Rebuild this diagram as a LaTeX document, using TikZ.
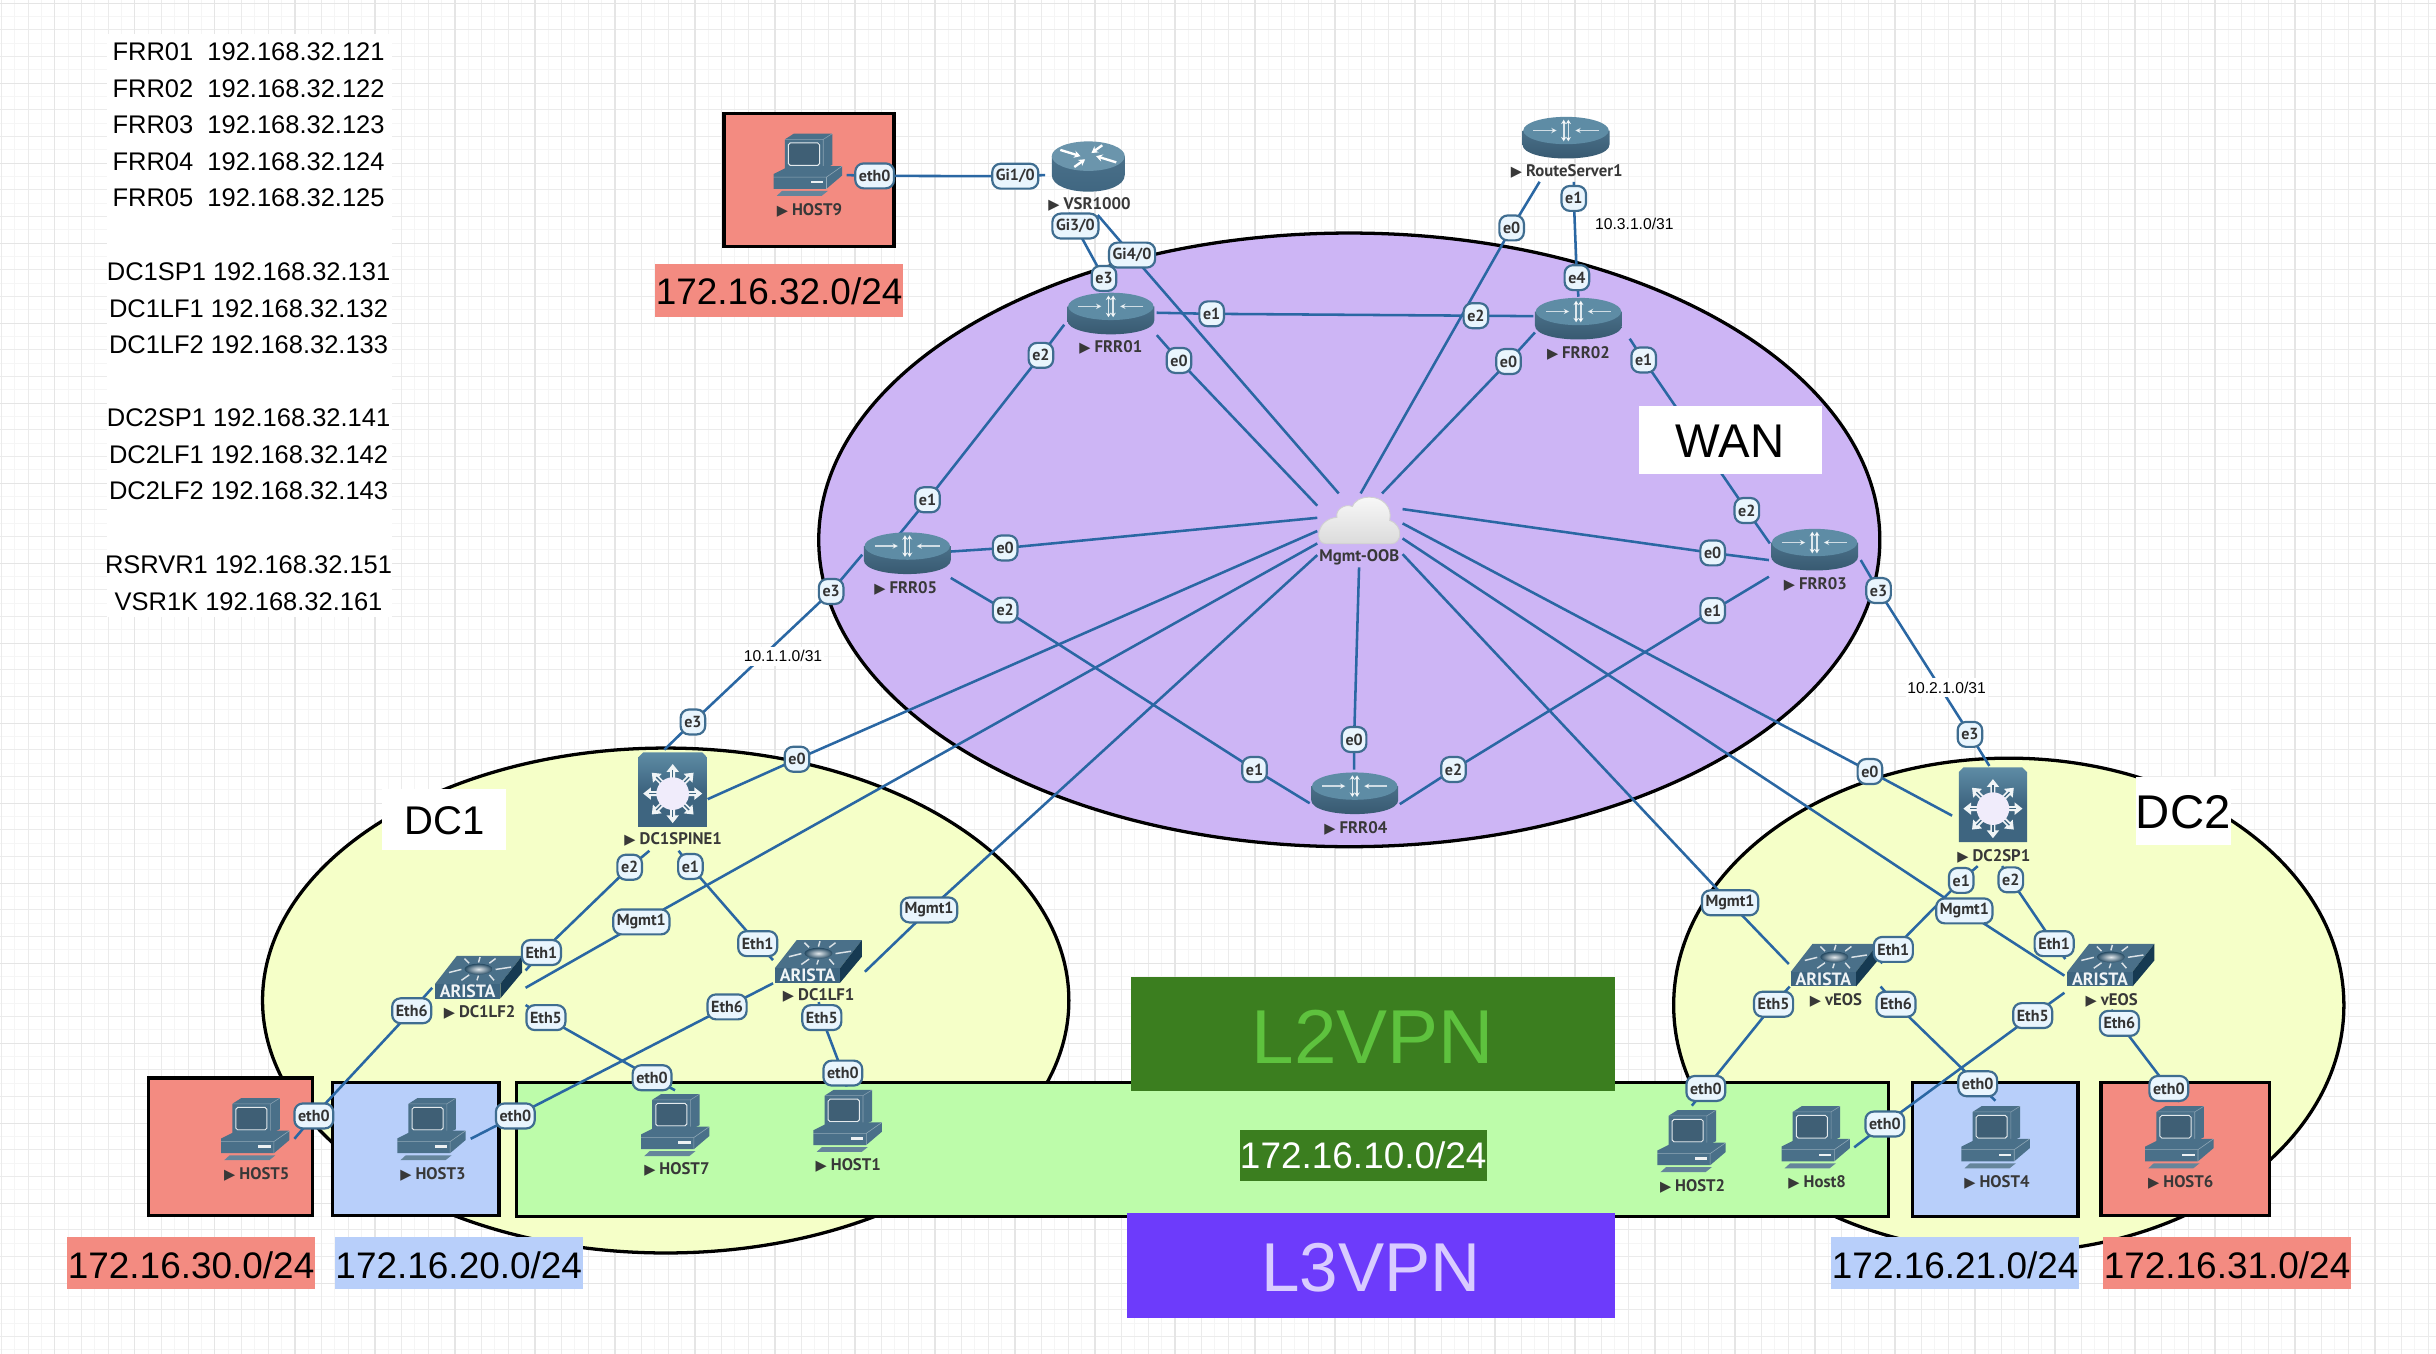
\documentclass[tikz,border=0pt]{standalone}
\usepackage{fontspec}
\setmainfont{Liberation Sans}
\newfontfamily\lab{PT Sans}
\newfontfamily\dv{DejaVu Sans}
\usetikzlibrary{arrows.meta,shadings}
\pgfdeclarelayer{bgl}\pgfdeclarelayer{links}
\pgfsetlayers{bgl,links,main}
\definecolor{iconA}{HTML}{4A7089}
\definecolor{iconB}{HTML}{3E6580}
\definecolor{iconC}{HTML}{5E8CA5}
\definecolor{iconD}{HTML}{163A52}
\definecolor{linkc}{HTML}{2A67A3}
\definecolor{portb}{HTML}{3F6D90}
\definecolor{portf}{HTML}{E9F5FD}
\definecolor{redb}{HTML}{F38B81}
\definecolor{blueb}{HTML}{B8CFFA}
\definecolor{greenb}{HTML}{BDFCAA}
\definecolor{yell}{HTML}{F5FFC8}
\definecolor{purp}{HTML}{CDB5F5}
\definecolor{dgreen}{HTML}{3B7E1F}
\definecolor{lgreen}{HTML}{5EC23E}
\definecolor{violet2}{HTML}{6D3BFB}
\definecolor{lav}{HTML}{D9CCFF}
\newcommand\devlab[1]{{\dv\fontsize{8}{8}\selectfont ▶}\hspace{2.2pt}#1}
\newcommand\drop[2]{\raisebox{-#1}[\height][0pt]{#2}}
\tikzset{
  x=0.03cm,y=-0.03cm,
  link/.style={draw=linkc,line width=1.4pt},
  port/.style={draw=portb,fill=portf,line width=1.2pt,rounded corners=4.6pt,yshift=-0.6pt,
    minimum height=13.7pt,minimum width=13.5pt,inner xsep=2pt,inner ysep=0pt,
    text=black!80,font=\lab\bfseries\fontsize{8.8}{8.8}\selectfont},
  devnode/.style={inner sep=0pt,minimum size=1pt},
  devlabel/.style={inner sep=0pt,yshift=-1.2pt,text=black!78,font=\lab\bfseries\fontsize{9.2}{9.2}\selectfont},
  area/.style={draw=black,line width=1.8pt},
  subnet/.style={inner sep=0pt,font=\fontsize{20.3}{20.3}\selectfont,text=black},
  smalltext/.style={fill=white,inner xsep=1pt,inner ysep=2pt,font=\fontsize{8.6}{8.6}\selectfont},
  tblrow/.style={inner sep=0pt,font=\fontsize{14}{14}\selectfont},
  router/.pic={
    \shade[top color=iconA,bottom color=iconB!85!black] (-28,-4.5) -- (-28,4.5) .. controls (-28,16.5) and (28,16.5) .. (28,4.5) -- (28,-4.5) -- cycle;
    \fill[iconC] (0,-4.5) ellipse [x radius=27.5,y radius=8.8];
    \draw[white,opacity=.7,line width=.8pt,-{Stealth[length=3pt,width=3pt]}] (-21,-4.5) -- (-6,-4.5);
    \draw[white,opacity=.7,line width=.8pt,-{Stealth[length=3pt,width=3pt]}] (21,-4.5) -- (6,-4.5);
    \draw[white,opacity=.8,line width=.9pt,{Stealth[length=2.5pt,width=3pt]}-{Stealth[length=2.5pt,width=3pt]}] (-1.5,-11.5) -- (-1.5,2.5);
    \draw[white,opacity=.8,line width=.9pt,{Stealth[length=2.5pt,width=3pt]}-{Stealth[length=2.5pt,width=3pt]}] (1.5,-11.5) -- (1.5,2.5);
  },
  vrouter/.pic={
    \shade[top color=iconA,bottom color=iconB] (-23.5,-6) -- (-23.5,6) .. controls (-23.5,20.5) and (23.5,20.5) .. (23.5,6) -- (23.5,-6) -- cycle;
    \fill[iconC!92!white] (0,-6) ellipse [x radius=23.5,y radius=9.5];
    \foreach \a/\b/\c/\d in {-18/-10/-5/-6, 18/-2/5/-6, 9/-13/2/-8, -9/1/-2/-4}
      \draw[white,line width=1.3pt,-{Stealth[length=3.5pt,width=4pt]}] (\a,\b) -- (\c,\d);
  },
  pchost/.pic={
    \fill[iconA] (-14.8,-16.3) -- (-9,-20) -- (15.8,-20) -- (15.8,0) -- (9.9,2.9) -- (-14.8,2.9) -- cycle;
    \draw[white,opacity=.35,line width=.3pt] (9.9,-16.3) -- (15.8,-20) (-14.8,-16.3) -- (9.9,-16.3) -- (9.9,2.9);
    \fill[iconA!85!black] (-12.5,-14) rectangle (7.5,0.5);
    \draw[white!85!iconA,line width=.55pt,rounded corners=1pt] (-12.5,-14) rectangle (7.5,0.5);
    \fill[iconA] (-22,6) -- (-12,1) -- (22,1) -- (22,7) -- (12,15.5) -- (-22,15.5) -- cycle;
    \draw[white,opacity=.4,line width=.3pt] (-22,8) -- (12,8) -- (22,1) (12,8) -- (12,15.5);
    \fill[white!90!iconA] (2,10.5) rectangle (10,12);
    \fill[iconA!85] (-20,20) -- (-16.5,16.8) -- (13,16.8) -- (9,20) -- cycle;
  },
  arista/.pic={
    \fill[iconA] (-28,4.3) -- (-14,-13.7) -- (28,-13.7) -- (14,4.3) -- cycle;
    \fill[iconD] (14,4.3) -- (28,-13.7) -- (28,-3) -- (14,13.7) -- cycle;
    \fill[iconB] (-28,4.3) rectangle (14,13.7);
    \foreach \dx/\dy/\ex/\ey in {-11/-5/-19/-3,11/-5/21/-6.5,-6/-9/-9/-12,7/-9/11/-12,-6/-1.5/-11/2,7/-1.5/10/2,0/-9.5/1/-13,0/-1/-1/2}
      \draw[white!80!iconA,line width=.8pt] (\dx,\dy) -- (\ex,\ey);
    \shade[inner color=white!85!iconA,outer color=iconD!70!iconA] (0,-5.2) ellipse [x radius=9,y radius=3.5];
    \node[inner sep=0pt,text=white!92!iconA,font=\lab\bfseries\fontsize{9.8}{9.8}\selectfont] at (-7,9.2) {ARISTA};
  },
  spine/.pic={
    \shade[top color=iconC,bottom color=iconB,middle color=iconB] (-22,24) -- (-22,-21) -- (-19,-24) -- (19,-24) -- (22,-21) -- (22,24) -- cycle;
    \foreach \r in {0,45,...,315}{
      \begin{scope}[shift={(0,2.5)},rotate=\r]
        \fill[white!92!iconA] (9,-1.6) -- (14,-1.6) -- (14,-4) -- (19,0) -- (14,4) -- (14,1.6) -- (9,1.6) -- cycle;
        \fill[iconB] (10,-.4) rectangle (15,.4);
      \end{scope}}
    \fill[white!92!violet2!97!gray] (0,2.5) circle [radius=10.5];
  },
  cloudicon/.pic={
    \draw[draw=black!18,line width=.5pt,top color=white!97!black,bottom color=black!14]
      (-21,15) -- (21,15) .. controls (28,15) and (29,3) .. (20,0)
      .. controls (22,-9) and (15,-15) .. (7,-15)
      .. controls (1,-15) and (-3,-12) .. (-4,-9)
      .. controls (-9,-11) and (-15,-7) .. (-14,-2)
      .. controls (-27,-1) and (-29,15) .. (-21,15) -- cycle;
  },
}
\begin{document}
\begin{tikzpicture}
\useasboundingbox (0,0) rectangle (1568,871.5);
\begin{pgfonlayer}{bgl}
  \fill[white] (0,0) rectangle (1568,871.5);
  % page grid
  \foreach \g in {0,...,91}{
    \pgfmathsetmacro\gx{9.58+17.165*\g}\pgfmathsetmacro\gy{10.68+17.165*\g}
    \draw[black!4,line width=.55pt] (\gx,0) -- (\gx,871.5);
    \ifnum\g<51 \draw[black!4,line width=.55pt] (0,\gy) -- (1568,\gy);\fi}
  \foreach \g in {0,...,91}{
    \pgfmathsetmacro\gx{1+17.165*\g}\pgfmathsetmacro\gy{2.1+17.165*\g}
    \draw[black!8,line width=.55pt] (\gx,0) -- (\gx,871.5);
    \ifnum\g<51 \draw[black!8,line width=.55pt] (0,\gy) -- (1568,\gy);\fi}
  \foreach \g in {0,...,30}{
    \pgfmathsetmacro\gx{35.3+51.5*\g}\pgfmathsetmacro\gy{2.1+51.5*\g}
    \draw[black!10,line width=.7pt] (\gx,0) -- (\gx,871.5);
    \ifnum\g<17 \draw[black!10,line width=.7pt] (0,\gy) -- (1568,\gy);\fi}
  \fill[white] (69,22) rectangle (252,397);
  % clouds of the topology
  \path[area,fill=yell] (428.5,644) ellipse [x radius=259.5,y radius=162.5];
  \path[area,fill=yell] (1293,647) ellipse [x radius=215.7,y radius=159];
  \path[area,fill=purp] (868.5,347.5) ellipse [x radius=341.5,y radius=197.5];
  % subnet boxes
  \path[area,fill=redb] (466,73) rectangle (575.5,158.5);
  \path[area,fill=redb] (95.5,693.8) rectangle (201.3,782.2);
  \path[area,fill=blueb] (214,696.8) rectangle (321.2,782.2);
  \path[area,fill=greenb] (332.4,696.8) rectangle (1215.5,783);
  \path[area,fill=blueb] (1231,696.8) rectangle (1337.6,783);
  \path[area,fill=redb] (1352.4,696.8) rectangle (1460.8,782.2);
\end{pgfonlayer}

% address table
\foreach \ry/\rt [count=\ri] in {33.5/FRR01\ \ 192.168.32.121,57/FRR02\ \ 192.168.32.122,80.5/FRR03\ \ 192.168.32.123,104/FRR04\ \ 192.168.32.124,127.5/FRR05\ \ 192.168.32.125,175/DC1SP1 192.168.32.131,198.5/DC1LF1 192.168.32.132,222/DC1LF2 192.168.32.133,269/DC2SP1 192.168.32.141,292.5/DC2LF1 192.168.32.142,316/DC2LF2 192.168.32.143,363.5/RSRVR1 192.168.32.151,387/VSR1K 192.168.32.161}
  \node[tblrow] (row\ri) at (160,\ry) {\rt};

% subnet labels
\node[subnet,fill=redb,minimum width=136.3pt,minimum height=29pt] (net32) at (501.5,187) {\drop{.5pt}{172.16.32.0/24}};
\node[subnet,fill=redb,minimum width=136.3pt,minimum height=29pt] (net30) at (123,813) {\drop{1pt}{172.16.30.0/24}};
\node[subnet,fill=blueb,minimum width=136.3pt,minimum height=29pt] (net20) at (295.3,813) {\drop{1pt}{172.16.20.0/24}};
\node[subnet,fill=blueb,minimum width=136.3pt,minimum height=29pt] (net21) at (1258.5,813) {\drop{1pt}{172.16.21.0/24}};
\node[subnet,fill=redb,minimum width=136.3pt,minimum height=29pt] (net31) at (1433.5,813) {\drop{1pt}{172.16.31.0/24}};
\node[inner sep=0pt,fill=dgreen,minimum width=266pt,minimum height=62.8pt,text=lgreen,font=\fontsize{42}{42}\selectfont] (l2vpn) at (883.7,665.7) {\drop{1.2pt}{L2VPN}};
\node[inner sep=0pt,fill=violet2,minimum width=268.5pt,minimum height=57.5pt,text=lav,font=\fontsize{38}{38}\selectfont] (l3vpn) at (882.5,814.5) {\drop{1.2pt}{L3VPN}};
\node[subnet,fill=dgreen,text=white,minimum width=136pt,minimum height=28pt] (net10) at (877.5,743.5) {172.16.10.0/24};
\node[inner sep=0pt,fill=white,minimum width=100.6pt,minimum height=37.5pt,font=\fontsize{26}{26}\selectfont] (wan) at (1113.7,283) {\drop{.8pt}{WAN}};
\node[inner sep=0pt,fill=white,minimum width=68pt,minimum height=34pt,font=\fontsize{22}{22}\selectfont] (dc1) at (286,527.5) {\drop{.8pt}{DC1}};
\node[inner sep=0pt,fill=white,minimum width=52.4pt,minimum height=37.8pt,font=\fontsize{26}{26}\selectfont] (dc2) at (1405.3,522) {\drop{.5pt}{DC2}};

% devices
\foreach \nm/\px/\py/\kind in {frr01/715/201.7/router,frr02/1016/205/router,frr03/1168/353.7/router,frr04/872/510.5/router,frr05/584/356/router,rs/1008/88.5/router,vsr/700.5/106.5/vrouter,oob/874.5/335/cloudicon,dc1sp/433/508.3/spine,dc2sp/1282.8/518/spine,dc1lf2/308/629/arista,dc1lf1/526.8/618.8/arista,veosa/1180.7/621.2/arista,veosb/1358.7/621.2/arista,host9/520/106/pchost,host5/164.3/726.8/pchost,host3/277.7/726.8/pchost,host7/434.6/724.2/pchost,host1/545.6/721.5/pchost,host2/1088.8/734.5/pchost,host8/1168.7/732/pchost,host4/1284.5/732/pchost,host6/1402.8/732/pchost}{
  \node[devnode] (\nm) at (\px,\py) {};
  \pic at (\nm) {\kind};
}

% device labels
\node[devlabel] (frr01l) at (715,222.5) {\devlab{FRR01}};
\node[devlabel] (frr02l) at (1016,226) {\devlab{FRR02}};
\node[devlabel] (frr03l) at (1168.5,374.5) {\devlab{FRR03}};
\node[devlabel] (frr04l) at (872.7,531.5) {\devlab{FRR04}};
\node[devlabel] (frr05l) at (583,377.5) {\devlab{FRR05}};
\node[devlabel] (rsl) at (1008.5,109) {\devlab{RouteServer1}};
\node[devlabel] (vsrl) at (701.3,130) {\devlab{VSR1000}};
\node[devlabel] (oobl) at (875,357.3) {Mgmt-OOB};
\node[devlabel] (dc1spl) at (433.3,539) {\devlab{DC1SPINE1}};
\node[devlabel] (dc2spl) at (1283.4,549.6) {\devlab{DC2SP1}};
\node[devlabel] (lf2l) at (308.7,650) {\devlab{DC1LF2}};
\node[devlabel] (lf1l) at (527,639.5) {\devlab{DC1LF1}};
\node[devlabel] (veosal) at (1181.7,642.5) {\devlab{vEOS}};
\node[devlabel] (veosbl) at (1359.2,642.5) {\devlab{vEOS}};
\node[devlabel] (host9l) at (521,134) {\devlab{HOST9}};
\node[devlabel] (host5l) at (165.3,754.5) {\devlab{HOST5}};
\node[devlabel] (host3l) at (278.7,754.5) {\devlab{HOST3}};
\node[devlabel] (host7l) at (435.7,751.6) {\devlab{HOST7}};
\node[devlabel] (host1l) at (546,749) {\devlab{HOST1}};
\node[devlabel] (host2l) at (1089.5,762) {\devlab{HOST2}};
\node[devlabel] (host8l) at (1169.7,759.5) {\devlab{Host8}};
\node[devlabel] (host4l) at (1285.4,759.5) {\devlab{HOST4}};
\node[devlabel] (host6l) at (1403.7,759.5) {\devlab{HOST6}};

% free link text
\node[smalltext] (t101) at (504,422.5) {10.1.1.0/31};
\node[smalltext] (t102) at (1253,442.5) {10.2.1.0/31};
\node[smalltext,fill=none] (t103) at (1052,144) {10.3.1.0/31};

% ports
\node[port] (a1) at (563,112.5) {eth0};
\node[port] (a2) at (653.5,112.7) {Gi1/0};
\node[port] (b1) at (692.2,144.8) {Gi3/0};
\node[port] (b2) at (710.6,178.5) {e3};
\node[port] (c1) at (728.7,163.5) {Gi4/0};
\node[port] (d1) at (779.9,201.3) {e1};
\node[port] (d2) at (950,202.5) {e2};
\node[port] (e1) at (670,228) {e2};
\node[port] (e2) at (597,321) {e1};
\node[port] (f1) at (758.9,231.3) {e0};
\node[port] (g1) at (973,146) {e0};
\node[port] (h1) at (1013,127) {e1};
\node[port] (h2) at (1015,178) {e4};
\node[port] (i1) at (971,232) {e0};
\node[port] (j1) at (1058,231) {e1};
\node[port] (j2) at (1124.4,327.9) {e2};
\node[port] (k1) at (1102.4,355.2) {e0};
\node[port] (l1) at (1102.4,392.3) {e1};
\node[port] (l2) at (935.6,494.6) {e2};
\node[port] (m1) at (1209.2,379.4) {e3};
\node[port] (m2) at (1268,472) {e3};
\node[port] (n1) at (871.6,475.3) {e0};
\node[port] (o1) at (807.5,494.6) {e1};
\node[port] (o2) at (647,392) {e2};
\node[port] (p1) at (647,352) {e0};
\node[port] (q1) at (535,380) {e3};
\node[port] (q2) at (446,464) {e3};
\node[port] (r1) at (513,488) {e0};
\node[port] (s1) at (412.8,592.7) {Mgmt1};
\node[port] (t1) at (598,585) {Mgmt1};
\node[port] (u1) at (1203.6,495.9) {e0};
\node[port] (v1) at (1264.4,585.6) {Mgmt1};
\node[port] (w1) at (1113.6,580.4) {Mgmt1};
\node[port] (y1) at (405.3,557.5) {e2};
\node[port] (y2) at (348.5,612.4) {Eth1};
\node[port] (z1) at (444.4,557) {e1};
\node[port] (z2) at (487.7,606.7) {Eth1};
\node[port] (aa1) at (265,649.9) {Eth6};
\node[port] (aa2) at (202,717.6) {eth0};
\node[port] (ab1) at (351.4,654.3) {Eth5};
\node[port] (ab2) at (419.7,693) {eth0};
\node[port] (ac1) at (468,647.4) {Eth6};
\node[port] (ac2) at (331.7,717.6) {eth0};
\node[port] (ad1) at (529,654.3) {Eth5};
\node[port] (ad2) at (542.5,690) {eth0};
\node[port] (ae1) at (1262.4,566) {e1};
\node[port] (ae2) at (1218.7,610.4) {Eth1};
\node[port] (af1) at (1294.3,565.6) {e2};
\node[port] (af2) at (1322.2,606.7) {Eth1};
\node[port] (ag1) at (1141.6,645.7) {Eth5};
\node[port] (ag2) at (1098,699.9) {eth0};
\node[port] (ah1) at (1220.4,645.7) {Eth6};
\node[port] (ah2) at (1273,696.9) {eth0};
\node[port] (ai1) at (1308.4,653) {Eth5};
\node[port] (ai2) at (1213.2,722.8) {eth0};
\node[port] (aj1) at (1364.2,658) {Eth6};
\node[port] (aj2) at (1396,699.9) {eth0};

% connectors
\begin{pgfonlayer}{links}
\draw[link] ([shift={(25,6.7)}]host9.center) -- (a1.center) -- (a2.center) -- ([shift={(-27.8,6.2)}]vsr.center);
\draw[link] ([shift={(-12.5,30.5)}]vsr.center) -- (b1.center) -- (b2.center) -- ([shift={(-2,-15.7)}]frr01.center);
\draw[link] ([shift={(6.1,31.9)}]vsr.center) -- (c1.center) -- ([shift={(-12.8,-17.4)}]oob.center);
\draw[link] ([shift={(29.5,-0.4)}]frr01.center) -- (d1.center) -- (d2.center) -- ([shift={(-29,-1.5)}]frr02.center);
\draw[link] ([shift={(-30,7.3)}]frr01.center) -- (e1.center) -- (e2.center) -- ([shift={(-6,-11)}]frr05.center);
\draw[link] ([shift={(29.6,14)}]frr01.center) -- (f1.center) -- ([shift={(-26.6,-9.5)}]oob.center);
\draw[link] ([shift={(-17,28.5)}]rs.center) -- (g1.center) -- ([shift={(1.3,-17.4)}]oob.center);
\draw[link] ([shift={(5,28.5)}]rs.center) -- (h1.center) -- (h2.center) -- ([shift={(0,-14)}]frr02.center);
\draw[link] ([shift={(-28,9)}]frr02.center) -- (i1.center) -- ([shift={(15.1,-17.4)}]oob.center);
\draw[link] ([shift={(33,13)}]frr02.center) -- (j1.center) -- (j2.center) -- ([shift={(-28.8,-3.9)}]frr03.center);
\draw[link] ([shift={(-29.4,6.8)}]frr03.center) -- (k1.center) -- ([shift={(28.3,-7.3)}]oob.center);
\draw[link] ([shift={(-29.4,17.5)}]frr03.center) -- (l1.center) -- (l2.center) -- ([shift={(29,7.1)}]frr04.center);
\draw[link] ([shift={(29.7,6.8)}]frr03.center) -- (m1.center) -- (m2.center) -- ([shift={(-2.3,-25)}]dc2sp.center);
\draw[link] ([shift={(-0.4,-15.2)}]frr04.center) -- (n1.center) -- ([shift={(0.3,30.2)}]oob.center);
\draw[link] ([shift={(-29,6.5)}]frr04.center) -- (o1.center) -- (o2.center) -- ([shift={(28,16)}]frr05.center);
\draw[link] ([shift={(28,-1)}]frr05.center) -- (p1.center) -- ([shift={(-26.6,-1.7)}]oob.center);
\draw[link] ([shift={(-29,1)}]frr05.center) -- (q1.center) -- (q2.center) -- ([shift={(-5.4,-25.7)}]dc1sp.center);
\draw[link] ([shift={(22.5,6.1)}]dc1sp.center) -- (r1.center) -- ([shift={(-26.6,6.8)}]oob.center);
\draw[link] ([shift={(30.3,6.8)}]dc1lf2.center) -- (s1.center) -- ([shift={(-26.6,14.8)}]oob.center);
\draw[link] ([shift={(29.9,6.7)}]dc1lf1.center) -- (t1.center) -- ([shift={(-26.6,22.3)}]oob.center);
\draw[link] ([shift={(-26.3,7)}]dc2sp.center) -- (u1.center) -- ([shift={(28.3,1.9)}]oob.center);
\draw[link] ([shift={(-29.9,6.8)}]veosb.center) -- (v1.center) -- ([shift={(28.3,11.6)}]oob.center);
\draw[link] ([shift={(-29.3,-0.7)}]veosa.center) -- (w1.center) -- ([shift={(28.3,21.7)}]oob.center);
\draw[link] ([shift={(-15,39.3)}]dc1sp.center) -- (y1.center) -- (y2.center) -- ([shift={(30.3,-4.3)}]dc1lf2.center);
\draw[link] ([shift={(3.8,39.3)}]dc1sp.center) -- (z1.center) -- (z2.center) -- ([shift={(-29.2,-0.8)}]dc1lf1.center);
\draw[link] ([shift={(-29.8,6.8)}]dc1lf2.center) -- (aa1.center) -- (aa2.center) -- ([shift={(25.2,6.2)}]host5.center);
\draw[link] ([shift={(30.3,17.9)}]dc1lf2.center) -- (ab1.center) -- (ab2.center) -- ([shift={(-0.1,-22.4)}]host7.center);
\draw[link] ([shift={(-29.2,14.1)}]dc1lf1.center) -- (ac1.center) -- (ac2.center) -- ([shift={(25.3,6.2)}]host3.center);
\draw[link] ([shift={(0.2,26.2)}]dc1lf1.center) -- (ad1.center) -- (ad2.center) -- ([shift={(-0.6,-22.1)}]host1.center);
\draw[link] ([shift={(-9.8,39.5)}]dc2sp.center) -- (ae1.center) -- (ae2.center) -- ([shift={(29.8,-1.2)}]veosa.center);
\draw[link] ([shift={(5.9,39.5)}]dc2sp.center) -- (af1.center) -- (af2.center) -- ([shift={(-29.3,-3.9)}]veosb.center);
\draw[link] ([shift={(-28.7,13.8)}]veosa.center) -- (ag1.center) -- (ag2.center) -- ([shift={(0.2,-22.8)}]host2.center);
\draw[link] ([shift={(29.8,13.8)}]veosa.center) -- (ah1.center) -- (ah2.center) -- ([shift={(-0.1,-23.5)}]host4.center);
\draw[link] ([shift={(-29.9,17.8)}]veosb.center) -- (ai1.center) -- (ai2.center) -- ([shift={(24.8,6.5)}]host8.center);
\draw[link] ([shift={(0.3,28.8)}]veosb.center) -- (aj1.center) -- (aj2.center) -- ([shift={(-0.1,-23)}]host6.center);
\end{pgfonlayer}
\end{tikzpicture}
\end{document}
